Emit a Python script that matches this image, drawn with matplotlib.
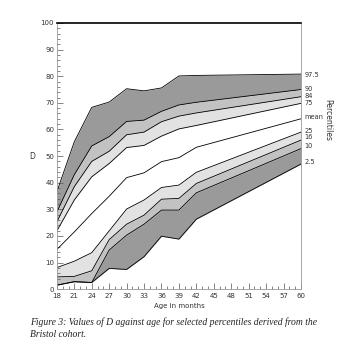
import matplotlib
matplotlib.use("Agg")
import matplotlib.pyplot as plt
from matplotlib.ticker import MultipleLocator

# age in months where the percentile curves bend
age = [18, 21, 24, 27, 30, 33, 36, 39, 42, 60]

# D values for each percentile curve
p975 = [36.6, 55.4, 68.3, 70.3, 75.3, 74.5, 75.6, 80.1, 80.3, 80.8]
p90 = [29.0, 43.0, 53.8, 57.3, 63.0, 63.5, 66.8, 69.2, 70.2, 75.0]
p84 = [25.3, 38.5, 48.0, 51.8, 58.0, 59.0, 62.9, 65.0, 66.2, 72.3]
p75 = [21.9, 33.5, 42.2, 47.2, 53.2, 54.0, 57.5, 60.2, 61.5, 69.8]
mean = [14.9, 21.5, 28.4, 34.9, 41.9, 43.7, 47.9, 49.4, 53.3, 64.0]
p25 = [8.1, 10.5, 13.7, 21.9, 30.1, 33.5, 38.2, 39.1, 43.9, 59.0]
p16 = [4.6, 4.8, 6.9, 18.6, 24.4, 27.8, 33.8, 34.1, 39.7, 56.0]
p10 = [1.5, 2.8, 2.5, 14.7, 20.3, 24.4, 29.7, 29.7, 36.2, 52.8]
p2_5 = [1.5, 2.8, 2.5, 7.8, 7.4, 12.2, 19.9, 18.8, 26.3, 47.0]

labels = ["97.5", "90", "84", "75", "mean", "25", "16", "10", "2.5"]
label_y = [80.3, 75.3, 72.6, 70.1, 64.6, 59.6, 57.2, 53.9, 47.6]

dark = "#9a9a9a"
mid = "#c2c2c2"
light = "#e2e2e2"

fig = plt.figure(figsize=(3.6, 3.43), dpi=100)
ax = fig.add_axes([0.158, 0.157, 0.678, 0.776])

# shaded bands between percentiles
ax.fill_between(age, p90, p975, color=dark, lw=0)
ax.fill_between(age, p84, p90, color=mid, lw=0)
ax.fill_between(age, p75, p84, color=light, lw=0)
ax.fill_between(age, p16, p25, color=light, lw=0)
ax.fill_between(age, p10, p16, color=mid, lw=0)
ax.fill_between(age, p2_5, p10, color=dark, lw=0)

curves = [p975, p90, p84, p75, mean, p25, p16, p10, p2_5]
for c in curves:
    ax.plot(age, c, color="black", lw=0.6)

ax.set_xlim(18, 60)
ax.set_ylim(0, 100)
ax.xaxis.set_major_locator(MultipleLocator(3))
ax.xaxis.set_minor_locator(MultipleLocator(1))
ax.yaxis.set_major_locator(MultipleLocator(10))
ax.yaxis.set_minor_locator(MultipleLocator(2))
ax.tick_params(which="both", direction="in", colors="#555555", labelsize=5,
               width=0.5, labelcolor="#333333")
ax.tick_params(which="major", length=4, pad=2)
ax.tick_params(which="minor", length=2)
ax.tick_params(axis="x", pad=3)

for side in ["left", "bottom", "right"]:
    ax.spines[side].set_color("#999999")
    ax.spines[side].set_linewidth(0.6)
ax.spines["top"].set_color("black")
ax.spines["top"].set_linewidth(1.2)

ax.set_xlabel("Age in months", fontsize=5, color="#333333", labelpad=3)
fig.text(0.09, 0.545, "D", fontsize=5.5, color="#333333", ha="center", va="center")

# percentile labels on the right
for lab, yv in zip(labels, label_y):
    ax.text(60.6, yv, lab, fontsize=4.8, color="#333333", va="center", ha="left",
            clip_on=False)
ax.text(1.11, 0.635, "Percentiles", transform=ax.transAxes, rotation=270,
        fontsize=5.5, color="#333333", ha="center", va="center")

cap_font = {"family": "Liberation Serif", "style": "italic", "size": 6.9}
fig.text(0.083, 0.061, "Figure 3: Values of D against age for selected percentiles derived from the",
         fontdict=cap_font, va="center", color="#222222")
fig.text(0.083, 0.026, "Bristol cohort.", fontdict=cap_font, va="center", color="#222222")

fig.savefig("out.png", dpi=100)
